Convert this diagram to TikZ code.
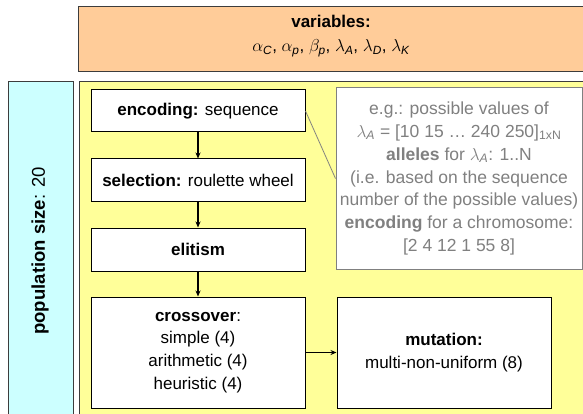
\documentclass[tikz,border=0pt]{standalone}
\usepackage{amsmath}
\usepackage{fontspec}
\setmainfont{Liberation Sans}
\usetikzlibrary{arrows.meta}
\definecolor{peach}{RGB}{255,204,153}
\definecolor{paleyellow}{RGB}{255,255,153}
\definecolor{palecyan}{RGB}{204,255,255}
\definecolor{framegray}{RGB}{60,60,60}
\definecolor{notegray}{RGB}{128,128,128}
\begin{document}
\begin{tikzpicture}[x=1pt,y=-1pt,
  every node/.style={font=\fontsize{17}{22.7}\selectfont, align=center, inner sep=0pt},
  panel/.style={draw=framegray, line width=1pt},
  stagebox/.style={draw=black, fill=white, line width=1pt, minimum width=214pt},
  notebox/.style={draw=notegray, fill=white, line width=1pt, text=notegray, font=\fontsize{17.5}{22.9}\selectfont},
  flow/.style={-{Stealth[length=6pt,width=5pt]}, line width=1.1pt},
  link/.style={draw=notegray, line width=0.8pt}]
\clip (0,0) rectangle (583,414);
% panels
\node[panel, fill=peach, minimum width=506pt, minimum height=65pt] (vars) at (331,39.5) {};
\node (varstext) at (331,36) {\textbf{variables:}\\[1pt]$\alpha_{\textit{C}}$, $\alpha_{\textit{p}}$, $\beta_{\textit{p}}$, $\lambda_{\textit{A}}$, $\lambda_{\textit{D}}$, $\lambda_{\textit{K}}$};
\node[panel, fill=palecyan, minimum width=65pt, minimum height=343pt] (pop) at (40.5,253.5) {};
\node[rotate=90, font=\fontsize{18.5}{22}\selectfont] (poptext) at (40,251) {\textbf{population size}: 20};
\node[panel, fill=paleyellow, minimum width=506pt, minimum height=343pt] (ga) at (332,253.5) {};
% stages
\node[stagebox, minimum height=42pt] (enc) at (198,111) {\textbf{encoding:} sequence};
\node[stagebox, minimum height=42pt] (sel) at (198,180) {\textbf{selection:} roulette wheel};
\node[stagebox, minimum height=43pt] (eli) at (198,249.5) {\textbf{elitism}};
\node[stagebox, minimum height=111pt] (cro) at (198,352.5) {\textbf{crossover}:\\simple (4)\\arithmetic (4)\\heuristic (4)};
\node[stagebox, minimum height=111pt] (mut) at (444,352.5) {\textbf{mutation:}\\multi-non-uniform (8)};
% note
\node[notebox, minimum width=246pt, minimum height=181pt] (note) at (459,178.5)
  {e.g.: possible values of\\
   $\lambda_{\textit{A}}$ = [10 15 … 240 250]$_{\text{1xN}}$\\
   \textbf{alleles} for $\lambda_{\textit{A}}$: 1..N\\
   (i.e. based on the sequence\\
   number of the possible values)\\
   \textbf{encoding} for a chromosome:\\
   \relax[2 4 12 1 55 8]};
% connectors
\draw[flow] (enc) -- (sel);
\draw[flow] (sel) -- (eli);
\draw[flow] (eli) -- (cro);
\draw[flow] (cro) -- (mut);
\draw[link] (enc.east) -- (note.west);
\end{tikzpicture}
\end{document}
